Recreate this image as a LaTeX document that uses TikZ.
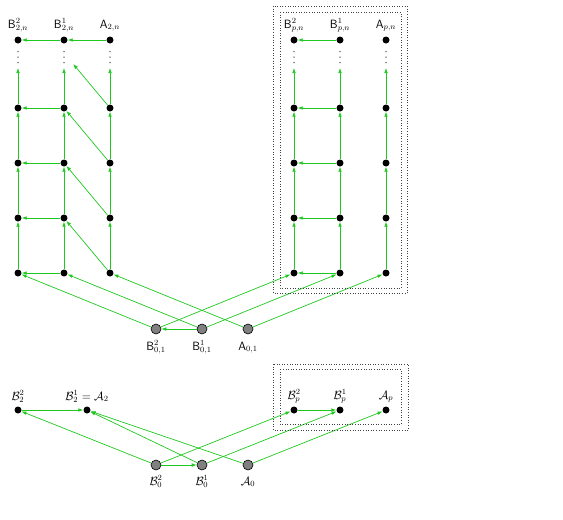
\documentclass[tikz,border=0pt]{standalone}
\usepackage{amsmath}
\usetikzlibrary{arrows.meta}
\definecolor{lgreen}{RGB}{30,200,30}
\tikzset{
  dot/.style={circle,fill=black,inner sep=0pt,minimum size=7pt},
  gdot/.style={circle,fill=black!50,draw=black,line width=0.6pt,inner sep=0pt,minimum size=10pt},
  arr/.style={draw=lgreen,line width=0.7pt,-{Latex[length=5pt,width=3.6pt]}},
  lbl/.style={anchor=base,inner sep=0pt,font=\fontsize{12}{14}\selectfont},
  dbox/.style={dotted,line width=0.6pt,draw=black!75},
  vdot/.style={fill=black!70}
}
\begin{document}
\begin{tikzpicture}[x=1pt,y=-1pt]
\useasboundingbox (0,0) rectangle (563,520);

% ---------- upper left group ----------
\foreach \c/\x in {b2/18,b1/64,a/110}{
  \foreach \r/\y in {1/273,2/218,3/163,4/108,t/40}{
    \node[dot] (L\c\r) at (\x,\y) {};
  }
  \coordinate (L\c e) at (\x,68);
  \foreach \yy in {51.5,57,62.5}{\fill[vdot] (\x,\yy) circle (0.75pt);}
}
% ---------- upper right group ----------
\foreach \c/\x in {b2/294,b1/340,a/386}{
  \foreach \r/\y in {1/273,2/218,3/163,4/108,t/40}{
    \node[dot] (R\c\r) at (\x,\y) {};
  }
  \coordinate (R\c e) at (\x,68);
  \foreach \yy in {51.5,57,62.5}{\fill[vdot] (\x,\yy) circle (0.75pt);}
}
\coordinate (Ld) at (73.2,64);

% labels upper
\node[lbl] (tl1) at (18,28) {\textsf{B}$^2_{2,n}$};
\node[lbl] (tl2) at (64,28) {\textsf{B}$^1_{2,n}$};
\node[lbl] (tl3) at (110,28) {\textsf{A}$_{2,n}$};
\node[lbl] (tr1) at (294,28) {\textsf{B}$^2_{p,n}$};
\node[lbl] (tr2) at (340,28) {\textsf{B}$^1_{p,n}$};
\node[lbl] (tr3) at (386,28) {\textsf{A}$_{p,n}$};

% edges upper left
\draw[arr] (Lat) -- (Lb1t);
\draw[arr] (Lb1t) -- (Lb2t);
\foreach \r in {1,2,3,4}{\draw[arr] (Lb1\r) -- (Lb2\r);}
\foreach \c in {b2,b1,a}{
  \draw[arr] (L\c1) -- (L\c2);
  \draw[arr] (L\c2) -- (L\c3);
  \draw[arr] (L\c3) -- (L\c4);
  \draw[arr] (L\c4) -- (L\c e);
}
\draw[arr] (La1) -- (Lb12);
\draw[arr] (La2) -- (Lb13);
\draw[arr] (La3) -- (Lb14);
\draw[arr] (La4) -- (Ld);

% edges upper right
\draw[arr] (Rb1t) -- (Rb2t);
\foreach \r in {1,2,3,4}{\draw[arr] (Rb1\r) -- (Rb2\r);}
\foreach \c in {b2,b1,a}{
  \draw[arr] (R\c1) -- (R\c2);
  \draw[arr] (R\c2) -- (R\c3);
  \draw[arr] (R\c3) -- (R\c4);
  \draw[arr] (R\c4) -- (R\c e);
}

% gray sources upper
\node[gdot] (g2) at (156,329) {};
\node[gdot] (g1) at (202,329) {};
\node[gdot] (ga) at (248,329) {};
\node[lbl] (gl2) at (156,350) {\textsf{B}$^2_{0,1}$};
\node[lbl] (gl1) at (202,350) {\textsf{B}$^1_{0,1}$};
\node[lbl] (gla) at (248,350) {\textsf{A}$_{0,1}$};
\draw[arr] (g1) -- (g2);
\draw[arr] (g2) -- (Lb21);
\draw[arr] (g1) -- (Lb11);
\draw[arr] (ga) -- (La1);
\draw[arr] (g2) -- (Rb21);
\draw[arr] (g1) -- (Rb11);
\draw[arr] (ga) -- (Ra1);

% boxes upper
\draw[dbox] (273,6) rectangle (407,293);
\draw[dbox] (280,12) rectangle (401,288);

% ---------- lower part ----------
\node[dot] (m2) at (18,410) {};
\node[dot] (m1) at (87,410) {};
\node[dot] (Rm2) at (294,410) {};
\node[dot] (Rm1) at (340,410) {};
\node[dot] (Rma) at (386,410) {};
\node[lbl] (ml2) at (18,400) {$\mathcal{B}_2^2$};
\node[lbl] (ml1) at (87,400) {$\mathcal{B}_2^1=\mathcal{A}_2$};
\node[lbl] (mr2) at (294,399) {$\mathcal{B}_p^2$};
\node[lbl] (mr1) at (340,399) {$\mathcal{B}_p^1$};
\node[lbl] (mra) at (386,399) {$\mathcal{A}_p$};

\node[gdot] (h2) at (156,465) {};
\node[gdot] (h1) at (202,465) {};
\node[gdot] (ha) at (248,465) {};
\node[lbl] (hl2) at (156,485) {$\mathcal{B}_0^2$};
\node[lbl] (hl1) at (202,485) {$\mathcal{B}_0^1$};
\node[lbl] (hla) at (248,485) {$\mathcal{A}_0$};

\draw[arr] (m2) -- (m1);
\draw[arr] (Rm2) -- (Rm1);
\draw[arr] (h2) -- (h1);
\draw[arr] (h2) -- (m2);
\draw[arr] (h1) -- (m1);
\draw[arr] (ha) -- (m1);
\draw[arr] (h2) -- (Rm2);
\draw[arr] (h1) -- (Rm1);
\draw[arr] (ha) -- (Rma);

\draw[dbox] (273,364) rectangle (408,430);
\draw[dbox] (280,369) rectangle (401,424);
\end{tikzpicture}
\end{document}
